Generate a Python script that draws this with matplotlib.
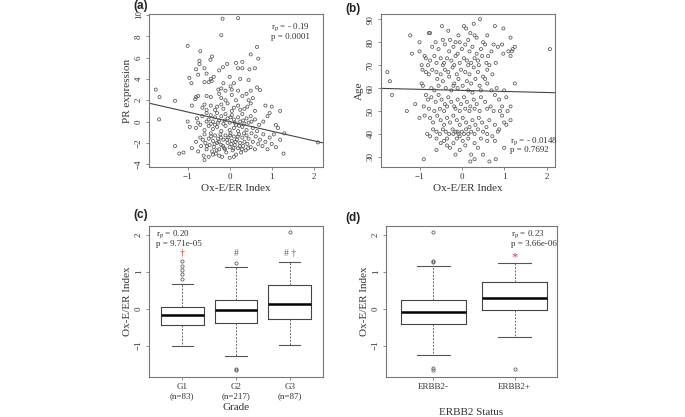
import numpy as np
import matplotlib
matplotlib.use("Agg")
import matplotlib.pyplot as plt

plt.rcParams['font.family'] = ['Liberation Serif', 'DejaVu Serif']
plt.rcParams['mathtext.fontset'] = 'stix'

# ---- panel (a): Ox-E/ER index vs PR expression ----
pts_a = [
    (-0.17, 9.65), (0.2, 9.7), (-0.2, 8.1), (-1.0, 7.1), (0.65, 7.0), (-0.7, 6.6), (0.5, 6.3),
    (-0.42, 6.1), (-0.46, 5.8), (-0.72, 5.7), (0.68, 5.9), (-0.72, 5.4), (-0.06, 5.4), (0.15, 5.5),
    (0.3, 5.6), (-0.16, 5.1), (-0.25, 4.8), (-0.8, 4.9), (-0.6, 5.0), (0.2, 5.0), (0.3, 5.0),
    (0.6, 5.0), (0.47, 4.9), (-0.75, 4.4), (-0.55, 4.5), (-0.96, 4.1), (-0.38, 4.2), (-0.45, 4.0),
    (0.0, 4.2), (0.25, 4.0), (0.45, 3.9), (-0.91, 3.6), (-0.6, 3.7), (-0.5, 3.7), (-0.43, 3.8),
    (-0.15, 3.6), (0.1, 3.6), (0.02, 3.3), (0.65, 3.2), (-1.76, 3.0), (-0.27, 3.0), (-0.2, 3.1),
    (-0.1, 2.9), (0.05, 3.0), (0.2, 2.9), (0.5, 2.9), (0.72, 2.95),
    (-1.67, 2.3), (-1.3, 1.95), (-0.82, 2.1), (-0.8, 2.3), (-0.75, 2.4), (-0.55, 2.4), (-0.45, 2.3),
    (-0.25, 2.6), (-0.2, 2.2), (-0.1, 2.0), (0.05, 2.5), (0.15, 2.0), (0.3, 2.4), (0.45, 2.0),
    (0.5, 1.7), (0.4, 2.6), (0.55, 2.2), (0.85, 1.5), (1.0, 1.4), (-0.9, 1.5), (-0.6, 1.6),
    (-0.65, 1.3), (-0.45, 1.5), (-0.3, 1.4), (-0.35, 1.1), (-0.2, 1.6), (-0.05, 1.7), (0.1, 1.3),
    (0.2, 1.5), (0.25, 1.1), (0.35, 1.2), (0.42, 1.4), (-0.55, 1.1), (-0.15, 1.2), (0.05, 1.0),
    (0.6, 1.0), (0.95, 0.8), (1.2, 1.0),
    (-1.68, 0.2), (-1.0, 0.0), (-0.78, 0.3), (-0.65, 0.5), (-0.55, 0.8), (-0.5, 0.2), (-0.45, 0.6),
    (-0.4, 0.0), (-0.35, 0.4), (-0.3, 0.8), (-0.25, 0.1), (-0.2, 0.5), (-0.15, -0.2), (-0.1, 0.7),
    (-0.05, 0.3), (0.0, -0.1), (0.05, 0.6), (0.1, 0.2), (0.15, -0.3), (0.2, 0.4), (0.25, 0.0),
    (0.3, 0.7), (0.35, -0.2), (0.4, 0.3), (0.45, -0.1), (0.5, 0.5), (0.6, 0.2), (0.7, -0.3),
    (0.8, 0.0), (0.9, 0.5), (1.1, -0.3), (1.15, -0.6), (-0.95, -0.5), (-0.8, -0.6), (-0.7, -0.3),
    (-0.6, -0.8), (-0.5, -0.4), (-0.4, -0.7), (-0.3, -0.5), (-0.2, -0.9), (-0.1, -0.4), (0.0, -0.8),
    (0.1, -0.6), (0.2, -0.9), (0.3, -0.5), (0.4, -0.8), (0.55, -0.6), (0.65, -0.9), (-0.75, -0.1),
    (-0.55, 0.0), (-0.28, -0.1), (0.12, -0.1), (0.32, 0.1), (-0.35, -0.3), (0.02, 0.4), (-0.45, -0.2),
    (0.22, -0.4), (0.52, 0.0), (-0.12, 0.1),
    (-1.3, -2.3), (-1.2, -3.0), (-1.1, -2.9), (-0.9, -2.5), (-0.8, -1.9), (-0.75, -2.8), (-0.7, -1.5),
    (-0.68, -2.3), (-0.62, -3.2), (-0.6, -1.2), (-0.58, -2.0), (-0.55, -2.6), (-0.5, -1.6), (-0.5, -3.3),
    (-0.48, -2.2), (-0.45, -1.1), (-0.42, -2.8), (-0.4, -1.8), (-0.38, -2.4), (-0.35, -1.3), (-0.33, -3.0),
    (-0.3, -2.0), (-0.28, -1.6), (-0.25, -2.6), (-0.22, -1.2), (-0.2, -2.2), (-0.18, -3.3), (-0.15, -1.7),
    (-0.13, -2.5), (-0.1, -1.3), (-0.08, -2.9), (-0.05, -2.0), (-0.03, -1.5), (0.0, -2.4), (0.0, -3.4),
    (0.02, -1.1), (0.05, -1.8), (0.07, -2.7), (0.1, -1.4), (0.12, -2.2), (0.15, -3.1), (0.17, -1.7),
    (0.2, -2.5), (0.22, -1.2), (0.25, -2.0), (0.27, -2.9), (0.3, -1.5), (0.32, -2.3), (0.35, -1.9),
    (0.38, -2.7), (0.4, -1.3), (0.42, -2.1), (0.45, -1.6), (0.5, -2.4), (0.52, -1.1), (0.55, -1.9),
    (0.6, -2.6), (0.62, -1.4), (0.68, -2.1), (0.72, -1.7), (0.78, -2.3), (0.8, -1.2), (0.85, -1.9),
    (0.9, -2.6), (0.95, -1.5), (1.0, -2.1), (1.05, -1.2), (1.1, -2.4), (1.2, -1.7), (1.3, -1.1),
    (1.28, -3.0), (2.1, -1.95), (-0.6, -3.6), (-0.25, -3.2), (0.1, -3.3), (-0.4, -3.1),
    (-0.36, -2.1), (-0.26, -1.9), (-0.16, -2.3), (-0.06, -1.7), (0.04, -2.1), (0.14, -1.9), (0.24, -2.3),
    (-0.31, -2.7), (-0.11, -2.6), (0.09, -2.5), (0.29, -2.6), (-0.21, -1.5), (0.01, -1.3), (0.19, -1.4),
    (-0.44, -1.4), (-0.64, -1.7), (-0.54, -2.3), (0.34, -1.1), (0.44, -2.5),
]
fit_a = (0.0, -0.90)   # intercept, slope

# ---- panel (b): Ox-E/ER index vs Age ----
pts_b = [
    (0.43, 90), (-0.47, 87), (0.05, 87), (0.28, 88), (0.1, 86), (0.98, 86), (0.78, 87), (-0.32, 85),
    (0.2, 84), (-0.08, 83), (-1.22, 83), (-0.78, 84), (-0.75, 84), (0.3, 83), (1.15, 82), (0.6, 83),
    (-0.45, 81), (-0.15, 80), (-0.05, 80), (0.15, 81), (0.35, 82), (0.5, 80), (0.75, 79), (0.95, 79),
    (-1.0, 80), (-0.62, 80), (-0.28, 81),
    (2.08, 77), (1.25, 78), (1.2, 77), (1.18, 76), (1.1, 76), (-1.0, 76), (-1.18, 75), (-0.88, 74),
    (-0.7, 78), (-0.55, 77), (-0.4, 79), (-0.3, 76), (-0.2, 78), (-0.1, 75), (0.0, 77), (0.08, 79),
    (0.18, 76), (0.25, 78), (0.35, 75), (0.45, 77), (0.55, 79), (0.62, 74), (0.8, 71), (0.85, 78),
    (0.7, 76), (0.98, 75), (1.15, 74), (-0.85, 73), (-0.75, 72), (-0.65, 74), (-0.5, 73), (-0.42, 71),
    (-0.35, 73), (-0.25, 72), (-0.15, 74), (-0.05, 71), (0.05, 73), (0.12, 72), (0.22, 71), (0.3, 73),
    (0.38, 72), (0.48, 74), (0.58, 71), (-0.95, 70), (-0.8, 70), (-0.6, 71), (-0.45, 70), (-0.18, 70),
    (0.15, 70), (0.4, 70), (0.65, 70),
    (-1.76, 67), (-1.7, 63), (-0.93, 68), (-0.85, 67), (-0.78, 66), (-0.7, 68), (-0.6, 67), (-0.5, 66),
    (-0.4, 68), (-0.32, 67), (-0.22, 69), (-0.12, 66), (-0.02, 68), (0.08, 67), (0.18, 66), (0.28, 69),
    (0.38, 67), (0.5, 65), (0.6, 68), (0.72, 66), (0.55, 64), (-0.58, 64), (-0.45, 63), (-0.3, 65),
    (-0.18, 62), (-0.08, 64), (0.02, 61), (0.12, 63), (0.22, 62), (0.32, 64), (0.42, 61), (0.6, 62),
    (0.82, 60), (1.25, 62), (-0.95, 62), (-0.92, 61), (-0.72, 60), (-0.55, 61), (-0.38, 60), (-0.2, 61),
    (-0.1, 60), (0.15, 59), (0.25, 58), (-0.65, 59), (-0.25, 59), (0.45, 59), (0.7, 59), (1.0, 59),
    (-1.65, 57), (-1.1, 53), (-1.3, 50), (-0.85, 57), (-0.8, 55), (-0.72, 56), (-0.62, 54), (-0.55, 57),
    (-0.48, 55), (-0.4, 53), (-0.32, 56), (-0.25, 54), (-0.18, 52), (-0.1, 55), (-0.02, 53), (0.05, 56),
    (0.12, 54), (0.2, 52), (0.28, 55), (0.35, 53), (0.45, 56), (0.55, 54), (0.68, 52), (0.78, 57),
    (0.88, 55), (0.95, 52), (1.05, 56), (1.15, 52), (1.08, 50), (-0.9, 52), (-0.78, 51), (-0.65, 50),
    (-0.52, 51), (-0.42, 50), (-0.35, 52), (-0.15, 51), (-0.05, 50), (0.08, 51), (0.18, 50), (0.3, 51),
    (0.42, 50), (0.6, 51), (0.75, 50), (0.9, 50),
    (-1.0, 47), (-0.88, 48), (-0.75, 47), (-0.68, 45), (-0.58, 48), (-0.5, 46), (-0.42, 44), (-0.35, 47),
    (-0.28, 45), (-0.2, 48), (-0.12, 46), (-0.05, 44), (0.02, 47), (0.1, 45), (0.18, 43), (0.25, 46),
    (0.32, 44), (0.4, 47), (0.48, 45), (0.58, 43), (0.65, 46), (0.78, 44), (0.88, 42), (1.0, 45),
    (1.05, 44), (1.15, 46), (0.95, 48), (-0.82, 40), (-0.75, 39), (-0.68, 42), (-0.6, 41), (-0.52, 40),
    (-0.45, 42), (-0.38, 41), (-0.3, 40), (-0.22, 42), (-0.15, 41), (-0.08, 40), (0.0, 41), (0.05, 40),
    (-0.05, 39), (0.1, 42), (0.15, 40), (0.22, 41), (0.3, 40), (0.38, 42), (0.5, 41), (0.6, 40),
    (0.72, 39), (0.85, 41), (-0.1, 41), (-0.2, 40),
    (-0.9, 29), (-0.6, 38), (-0.5, 36), (-0.42, 37), (-0.35, 35), (-0.28, 34), (-0.2, 36), (-0.12, 38),
    (-0.05, 33), (0.02, 37), (0.08, 35), (0.15, 38), (0.22, 31), (0.3, 36), (0.38, 34), (0.3, 29),
    (0.5, 31), (0.65, 28), (0.2, 28), (0.78, 37), (0.8, 29), (1.0, 34), (-0.6, 33), (-0.15, 31),
    (0.6, 37), (0.45, 38), (-0.35, 38),
]
fit_b = (59.0, -0.46)

# ---- panel (c): Ox-E/ER index by grade (box statistics) ----
grade_labels = ["G1\n(n=83)", "G2\n(n=217)", "G3\n(n=87)"]
grade_med = [-0.16, -0.045, 0.12]
grade_q1 = [-0.45, -0.40, -0.27]
grade_q3 = [0.045, 0.24, 0.65]
grade_wlo = [-1.01, -1.28, -0.97]
grade_whi = [0.68, 1.13, 1.26]
grade_fliers = [[0.80, 0.93, 1.05, 1.16, 1.28], [1.23, -1.62, -1.67], [2.07]]
grade_marks = ["\u2020", "#", "# \u2020"]
grade_mark_y = [1.50, 1.50, 1.50]

# ---- panel (d): Ox-E/ER index by ERBB2 status ----
erbb_labels = ["ERBB2-", "ERBB2+"]
erbb_med = [-0.09, 0.29]
erbb_q1 = [-0.41, -0.04]
erbb_q3 = [0.24, 0.72]
erbb_wlo = [-1.26, -0.77]
erbb_whi = [1.16, 1.25]
erbb_fliers = [[2.09, 1.30, 1.27, -1.60, -1.66], [-1.62]]

W, H = 685, 417
fig = plt.figure(figsize=(W / 100, H / 100), dpi=100)

def box_px(l, t, r, b):
    return [l / W, 1 - b / H, (r - l) / W, (b - t) / H]

ax_a = fig.add_axes(box_px(149, 14, 323, 167))
ax_b = fig.add_axes(box_px(381, 14, 555, 167))
ax_c = fig.add_axes(box_px(149, 226, 323, 377))
ax_d = fig.add_axes(box_px(386, 226, 557, 377))

edge = '#555555'
txt = '#333333'

def r_style(ax):
    for s in ax.spines.values():
        s.set_color('#777777')
        s.set_linewidth(0.8)
    ax.tick_params(direction='out', length=2.5, width=0.6, colors='#777777',
                   labelcolor=txt, labelsize=6.5, pad=2)
    for lab in ax.get_yticklabels():
        lab.set_rotation(90)
        lab.set_va('center')

def stat_text(ax, x, y, r_txt, p_txt):
    ax.text(x, y, r"r$_{\rm p}$ = " + r_txt, transform=ax.transAxes, fontsize=6.5, color=txt, va='top')
    ax.text(x, y - 0.075, "p = " + p_txt, transform=ax.transAxes, fontsize=6.5, color=txt, va='top')

# scatter panels
for ax, pts, fit, xlim, ylim, yticks, ylab in [
        (ax_a, pts_a, fit_a, (-1.92, 2.22), (-4.26, 10.09), range(-4, 11, 2), "PR expression"),
        (ax_b, pts_b, fit_b, (-1.91, 2.2), (25.6, 92.3), range(30, 91, 10), "Age")]:
    arr = np.array(pts, dtype=float)
    ax.scatter(arr[:, 0], arr[:, 1], s=5, facecolors='none', edgecolors=edge, linewidths=0.55)
    xs = np.array(xlim)
    ax.plot(xs, fit[0] + fit[1] * xs, color='#444444', lw=0.8)
    ax.set_xlim(xlim)
    ax.set_ylim(ylim)
    ax.set_xticks([-1, 0, 1, 2])
    ax.set_yticks(list(yticks))
    ax.set_xlabel("Ox-E/ER Index", fontsize=8, color=txt, labelpad=2)
    ax.set_ylabel(ylab, fontsize=8, color=txt, labelpad=2)
    r_style(ax)

stat_text(ax_a, 0.70, 0.95, "- 0.19", "0.0001")
stat_text(ax_b, 0.74, 0.21, "- 0.0148", "0.7692")

# box panels
def draw_boxes(ax, labels, med, q1, q3, wlo, whi, fliers):
    stats = []
    for i in range(len(labels)):
        stats.append(dict(med=med[i], q1=q1[i], q3=q3[i], whislo=wlo[i], whishi=whi[i],
                          fliers=fliers[i], label=labels[i]))
    ax.bxp(stats, positions=range(1, len(labels) + 1), widths=0.8,
           boxprops=dict(color='#444444', lw=0.8),
           medianprops=dict(color='black', lw=1.8),
           whiskerprops=dict(color='#666666', lw=0.7, ls=(0, (2, 1.5))),
           capprops=dict(color='#555555', lw=0.8), capwidths=0.4,
           flierprops=dict(marker='o', markersize=2.3, markerfacecolor='none',
                           markeredgecolor=edge, markeredgewidth=0.55))
    ax.set_ylim(-1.85, 2.24)
    ax.set_yticks([-1, 0, 1, 2])
    ax.set_ylabel("Ox-E/ER Index", fontsize=8, color=txt, labelpad=2)
    r_style(ax)
    ax.tick_params(axis='x', labelsize=6.5)

draw_boxes(ax_c, grade_labels, grade_med, grade_q1, grade_q3, grade_wlo, grade_whi, grade_fliers)
ax_c.set_xlim(0.38, 3.62)
ax_c.set_xlabel("Grade", fontsize=8, color=txt, labelpad=2)
for i, (m, y) in enumerate(zip(grade_marks, grade_mark_y)):
    ax_c.text(i + 1, y, m, color='#d9393e', fontsize=7, ha='center', va='center')
stat_text(ax_c, 0.04, 0.985, "0.20", "9.71e-05")

draw_boxes(ax_d, erbb_labels, erbb_med, erbb_q1, erbb_q3, erbb_wlo, erbb_whi, erbb_fliers)
ax_d.set_xlim(0.42, 2.52)
ax_d.set_xlabel("ERBB2 Status", fontsize=8, color=txt, labelpad=12)
ax_d.text(2, 1.40, "*", color='#d9393e', fontsize=9, ha='center', va='center')
stat_text(ax_d, 0.73, 0.985, "0.23", "3.66e-06")

# panel letters
for lab, x, y in [("(a)", 133, 6), ("(b)", 345, 9), ("(c)", 133, 215), ("(d)", 345, 218)]:
    fig.text(x / W, 1 - y / H, lab, fontsize=8.5, fontweight='bold', family='Liberation Sans',
             va='center', ha='left', color='#222222')

fig.savefig("out.png", dpi=100)
